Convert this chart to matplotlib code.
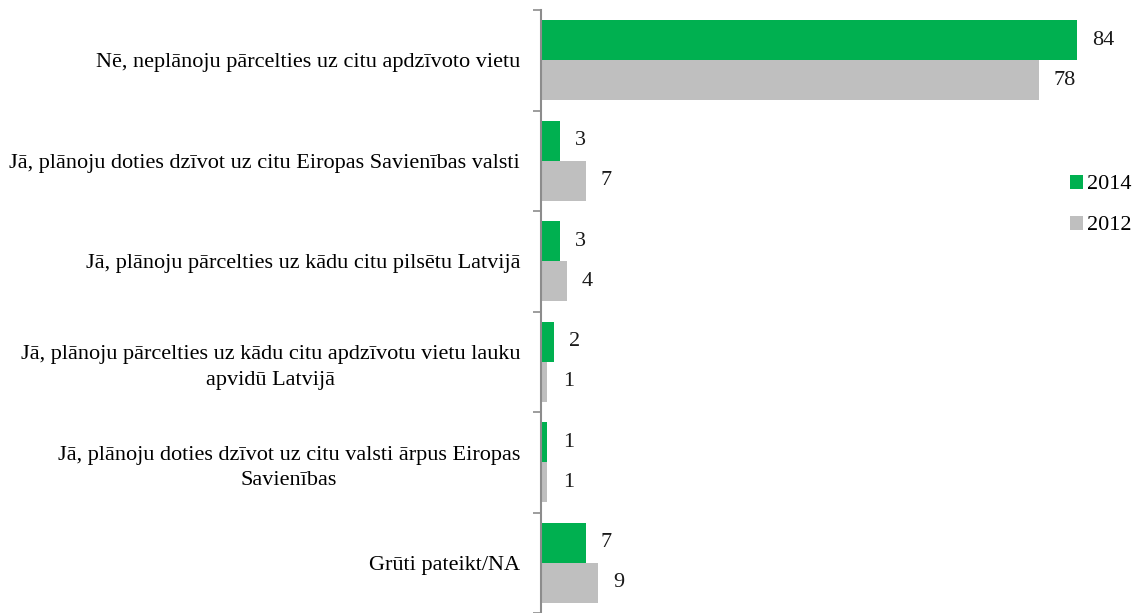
import matplotlib.pyplot as plt
import numpy as np

# Dati
kategorijas = [
    "Nē, neplānoju pārcelties uz citu apdzīvoto vietu",
    "Jā, plānoju doties dzīvot uz citu Eiropas Savienības valsti",
    "Jā, plānoju pārcelties uz kādu citu pilsētu Latvijā",
    "Jā, plānoju pārcelties uz kādu citu apdzīvotu vietu lauku\napvidū Latvijā",
    "Jā, plānoju doties dzīvot uz citu valsti ārpus Eiropas\nSavienības",
    "Grūti pateikt/NA",
]
vertibas_2014 = [84, 3, 3, 2, 1, 7]
vertibas_2012 = [78, 7, 4, 1, 1, 9]
gadi = ["2014", "2012"]

zals = "#00B050"
peleks = "#BFBFBF"
ass_krasa = "#8C8C8C"
fs = 16

plt.rcParams["font.family"] = ["Liberation Serif", "DejaVu Serif"]

fig = plt.figure(figsize=(11.39, 6.13), dpi=100)
W, H = 1139, 613
px_per_unit = 6.38
xmax = 90
ax = fig.add_axes([541 / W, 0.0, xmax * px_per_unit / W, 1 - 10 / H])

n = len(kategorijas)
y = np.arange(n)
bar_h = 0.4

b1 = ax.barh(y - bar_h / 2, vertibas_2014, height=bar_h, color=zals, label=gadi[0])
b2 = ax.barh(y + bar_h / 2, vertibas_2012, height=bar_h, color=peleks, label=gadi[1])

# vērtību iezīmes pie stabiņiem
for bars, vals in ((b1, vertibas_2014), (b2, vertibas_2012)):
    for rect, v in zip(bars, vals):
        ax.annotate(str(v), (rect.get_width(), rect.get_y() + rect.get_height() / 2),
                    xytext=(11, 0), textcoords="offset points",
                    ha="left", va="center", fontsize=fs, color="#1a1a1a")

ax.set_xlim(0, xmax)
ax.set_ylim(n - 0.5, -0.5)

ax.set_yticks(y)
ax.set_yticklabels(kategorijas, fontsize=fs, linespacing=1.45)
for lbl in ax.get_yticklabels():
    lbl.set_multialignment("center")
ax.tick_params(axis="y", which="major", length=0, pad=15)
ax.set_yticks(np.arange(n + 1) - 0.5, minor=True)
ax.tick_params(axis="y", which="minor", length=5.5, width=1.2, color=ass_krasa, direction="out")
ax.set_xticks([])

for s in ("top", "right", "bottom"):
    ax.spines[s].set_visible(False)
ax.spines["left"].set_color(ass_krasa)
ax.spines["left"].set_linewidth(1.5)

fig.legend(handles=[b1, b2], labels=gadi, loc="upper left",
           bbox_to_anchor=(1054 / W, 1 - 159 / H), frameon=False,
           fontsize=fs, handlelength=0.6, handleheight=0.6,
           handletextpad=0.2, labelspacing=0.95, borderpad=0.2)

fig.savefig("out.png", dpi=100)
